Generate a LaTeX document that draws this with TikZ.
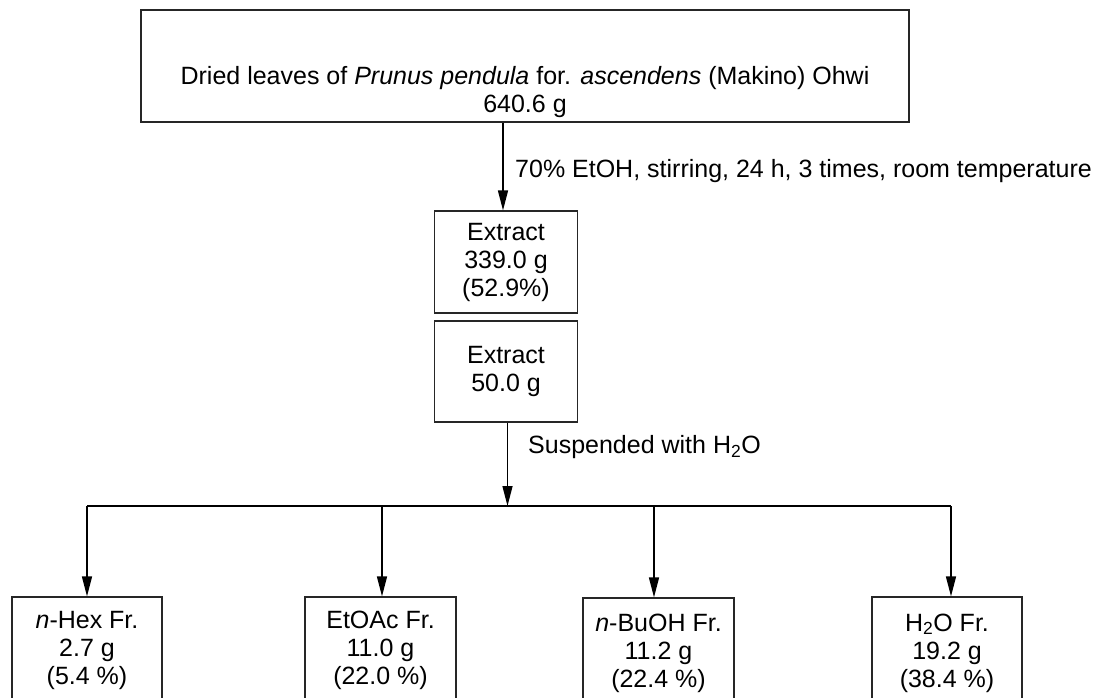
\documentclass[tikz,border=0pt]{standalone}
\usepackage{fontspec}
\setmainfont{Liberation Sans}
\usetikzlibrary{arrows.meta}
\begin{document}
\begin{tikzpicture}[x=1pt,y=-1pt,
  every node/.style={font=\fontsize{25}{28}\selectfont, inner sep=0pt},
  boxn/.style={draw=black!85, line width=1.2pt, align=center},
  txt/.style={align=center},
  conn/.style={line width=1.4pt, draw=black},
  arr/.style={conn, -{Triangle[length=20pt,width=10pt]}}
]
\useasboundingbox (0,0) rectangle (1112,698);
% top box
\node[boxn, minimum width=768pt, minimum height=112pt] (top) at (525,66) {};
\node[txt] (topt) at (525,92) {Dried leaves of \textit{Prunus pendula} for. \textit{ascendens} (Makino) Ohwi\\640.6 g};
% extract boxes
\node[boxn, minimum width=143pt, minimum height=102pt] (ex1) at (506,262) {Extract\\339.0 g\\(52.9\%)};
\node[boxn, minimum width=143pt, minimum height=101pt] (ex2) at (506,371.5) {Extract\\50.0 g};
% labels
\node[anchor=west] (lab1) at (515,171) {70\% EtOH, stirring, 24 h, 3 times, room temperature};
\node[anchor=west] (lab2) at (528,447) {Suspended with H\textsubscript{2}O};
% fraction boxes
\node[boxn, minimum width=150pt, minimum height=130pt] (f1) at (87,662) {};
\node[boxn, minimum width=151pt, minimum height=130pt] (f2) at (380.5,662) {};
\node[boxn, minimum width=151pt, minimum height=130pt] (f3) at (658.5,663) {};
\node[boxn, minimum width=150pt, minimum height=130pt] (f4) at (947,662) {};
\node[txt] (f1t) at (87,650) {\textit{n}-Hex Fr.\\2.7 g\\(5.4 \%)};
\node[txt] (f2t) at (380.5,650) {EtOAc Fr.\\11.0 g\\(22.0 \%)};
\node[txt] (f3t) at (658.5,653) {\textit{n}-BuOH Fr.\\11.2 g\\(22.4 \%)};
\node[txt] (f4t) at (947,653) {H\textsubscript{2}O Fr.\\19.2 g\\(38.4 \%)};
% connector coordinates
\coordinate (a1) at (503,0);
\coordinate (a2) at (507.5,0);
\coordinate (b1) at (87,506);
\coordinate (b2) at (382,506);
\coordinate (b3) at (654,506);
\coordinate (b4) at (951,506);
% connectors
\draw[arr] (a1 |- top.south) -- (a1 |- ex1.north);
\draw[arr] (a2 |- ex2.south) -- (a2 |- b1);
\draw[conn] (b1) -- (b4);
\draw[arr] (b1) -- (b1 |- f1.north);
\draw[arr] (b2) -- (b2 |- f2.north);
\draw[arr] (b3) -- (b3 |- f3.north);
\draw[arr] (b4) -- (b4 |- f4.north);
\end{tikzpicture}
\end{document}
